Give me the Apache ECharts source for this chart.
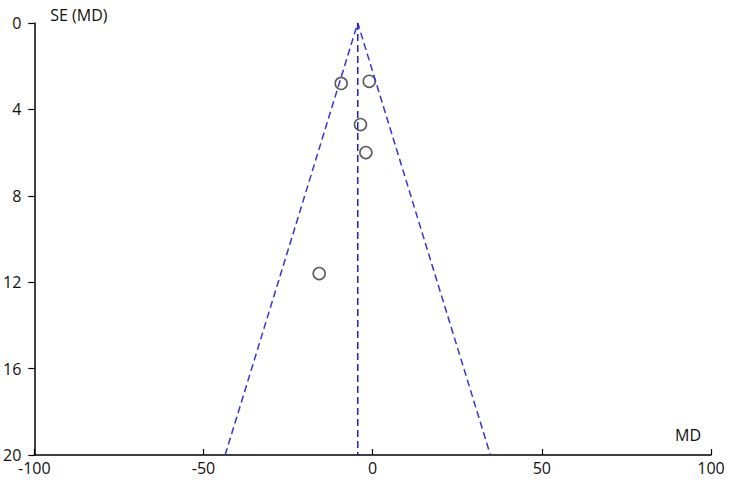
<!DOCTYPE html>
<html><head><meta charset="utf-8">
<script src="https://cdn.jsdelivr.net/npm/echarts@6/dist/echarts.min.js"></script>
<style>html,body{margin:0;padding:0;background:#fff}#c{width:733px;height:484px}</style>
</head><body><div id="c"></div>
<script>
// Study points: mean difference (MD) and standard error SE(MD)
const studyMD = [-9.3, -1.0, -3.6, -2.0, -15.8];
const studySE = [2.8, 2.7, 4.7, 6.0, 11.6];
// Pooled estimate and funnel limits at SE = 20
const pooledMD = -4.4;
const funnelLeftAt20 = -43.6;
const funnelRightAt20 = 34.8;
const seMax = 20;
const xTicks = [-100, -50, 0, 50, 100];
const yTicks = [0, 4, 8, 12, 16, 20];

const font = "'Open Sans', 'Noto Sans', sans-serif";
const pts = studyMD.map((m, i) => [m, studySE[i]]);
const chart = echarts.init(document.getElementById('c'), null, {renderer: 'svg'});
chart.setOption({
  animation: false,
  backgroundColor: '#fff',
  grid: {left: 32, right: 22, top: 23, bottom: 29, containLabel: false},
  xAxis: {
    type: 'value', min: xTicks[0], max: xTicks[xTicks.length - 1], interval: 50,
    position: 'bottom',
    name: 'MD', nameLocation: 'end', nameGap: -10,
    nameTextStyle: {fontFamily: font, fontSize: 16, color: '#111', align: 'right', verticalAlign: 'bottom', padding: [0, 0, 12, 0]},
    axisLine: {lineStyle: {color: '#000', width: 1.5}, onZero: false},
    axisTick: {inside: true, length: 6, lineStyle: {color: '#000', width: 1.2}},
    axisLabel: {fontFamily: font, fontSize: 16, color: '#111', margin: 5},
    splitLine: {show: false}
  },
  yAxis: {
    type: 'value', inverse: true, min: yTicks[0], max: seMax, interval: 4,
    name: 'SE (MD)', nameLocation: 'start', nameGap: 8,
    nameTextStyle: {fontFamily: font, fontSize: 16, color: '#111', align: 'left', verticalAlign: 'middle', padding: [0, 0, 0, 16]},
    axisLine: {show: true, lineStyle: {color: '#000', width: 1.5}, onZero: false},
    axisTick: {show: true, length: 6, lineStyle: {color: '#000', width: 1.2}},
    axisLabel: {fontFamily: font, fontSize: 16, color: '#111', margin: 13},
    splitLine: {show: false}
  },
  series: [
    {
      type: 'line', silent: true, symbol: 'none',
      data: [[funnelLeftAt20, seMax], [pooledMD, 0], [funnelRightAt20, seMax]],
      lineStyle: {color: '#3535d0', width: 1.5, type: [7, 4]}
    },
    {
      type: 'line', silent: true, symbol: 'none',
      data: [[pooledMD, 0], [pooledMD, seMax]],
      lineStyle: {color: '#2020d0', width: 1.5, type: [7, 4]}
    },
    {
      type: 'scatter', data: pts, symbol: 'circle', symbolSize: 12,
      itemStyle: {color: 'rgba(255,255,255,0)', borderColor: '#333', borderWidth: 1.6}
    }
  ]
});
</script></body></html>
